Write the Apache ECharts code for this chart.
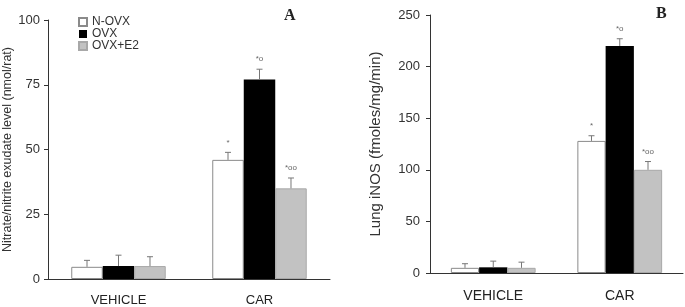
<!DOCTYPE html>
<html><head><meta charset="utf-8">
<script src="https://cdn.jsdelivr.net/npm/echarts@6/dist/echarts.min.js"></script>
<style>html,body{margin:0;padding:0;background:#fff}#c{width:685px;height:307px}</style>
</head><body><div id="c"></div>
<script>
var categories = ['VEHICLE', 'CAR'];
var seriesNames = ['N-OVX', 'OVX', 'OVX+E2'];
// Panel A: nitrate/nitrite exudate (nmol/rat)
var nOvxA = [4.7, 46];
var ovxA = [5, 77];
var ovxE2A = [5, 35];
var nOvxAErr = [2.5, 2.9];
var ovxAErr = [4.2, 4];
var ovxE2AErr = [3.6, 4];
// Panel B: lung iNOS (fmoles/mg/min)
var nOvxB = [5, 128];
var ovxB = [5.5, 220];
var ovxE2B = [5, 100];
var nOvxBErr = [4, 5];
var ovxBErr = [6, 7];
var ovxE2BErr = [5.5, 8];
// significance marks
var nOvxMarks = ['', '*'];
var ovxMarks = ['', '*o'];
var ovxE2Marks = ['', '*oo'];
var yTicksA = [0, 25, 50, 75, 100];
var yTicksB = [0, 50, 100, 150, 200, 250];

var GAP = 0.33;
var styles = [
  {color: '#ffffff', borderColor: '#8a8a8a', borderWidth: 1},
  {color: '#000000', borderColor: '#000000', borderWidth: 0},
  {color: '#c2c2c2', borderColor: '#a8a8a8', borderWidth: 1}
];

function barSeries(name, data, idx, axisIdx) {
  return {
    type: 'bar', name: name, xAxisIndex: axisIdx, yAxisIndex: axisIdx,
    data: data, barGap: '0%', barCategoryGap: (GAP * 100) + '%',
    itemStyle: styles[idx], silent: true, animation: false, z: 2
  };
}
function errSeries(vals, errs, marks, idx, axisIdx) {
  var d = vals.map(function (v, i) { return [i, v, errs[i], marks[i]]; });
  return {
    type: 'custom', xAxisIndex: axisIdx, yAxisIndex: axisIdx, data: d, z: 5,
    animation: false, silent: true,
    renderItem: function (params, api) {
      var cat = api.value(0), v = api.value(1), e = api.value(2);
      var mark = d[params.dataIndex][3];
      var base = api.coord([cat, v]);
      var top = api.coord([cat, v + e]);
      var band = api.size([1, 0])[0];
      var bw = band * (1 - GAP) / 3;
      var x = base[0] + (idx - 1) * bw;
      var col = '#777';
      var children = [
        {type: 'line', shape: {x1: x, y1: base[1], x2: x, y2: top[1]}, style: {stroke: col, lineWidth: 1}},
        {type: 'line', shape: {x1: x - 3, y1: top[1], x2: x + 3, y2: top[1]}, style: {stroke: col, lineWidth: 1}}
      ];
      if (mark) {
        children.push({type: 'text', style: {text: mark, x: x, y: top[1] - 6, align: 'center', verticalAlign: 'bottom',
          font: '8px Arial', fill: '#666'}});
      }
      return {type: 'group', children: children};
    }
  };
}

var axisLine = {show: true, lineStyle: {color: '#333', width: 1}};
var option = {
  backgroundColor: '#fff',
  animation: false,
  textStyle: {fontFamily: 'Arial, Liberation Sans, sans-serif'},
  title: [
    {text: 'A', left: 279, top: 3, textStyle: {fontFamily: 'Liberation Serif, serif', fontWeight: 'bold', fontSize: 16, color: '#222'}},
    {text: 'B', left: 651, top: 1, textStyle: {fontFamily: 'Liberation Serif, serif', fontWeight: 'bold', fontSize: 16, color: '#222'}}
  ],
  legend: {
    data: seriesNames, orient: 'vertical', left: 78, top: 16, padding: 0, itemWidth: 8, itemHeight: 8, itemGap: 0,
    icon: 'rect', textStyle: {fontSize: 12, lineHeight: 12, color: '#333'}, selectedMode: false
  },
  grid: [
    {left: 47, right: 355, top: 20, bottom: 27.5},
    {left: 430, right: 2, top: 15, bottom: 34}
  ],
  xAxis: [
    {type: 'category', gridIndex: 0, data: categories, axisLine: axisLine, axisTick: {show: false},
      axisLabel: {fontSize: 13, color: '#222', margin: 15}},
    {type: 'category', gridIndex: 1, data: categories, axisLine: axisLine, axisTick: {show: false},
      axisLabel: {fontSize: 14, color: '#222', margin: 16}}
  ],
  yAxis: [
    {type: 'value', gridIndex: 0, min: yTicksA[0], max: yTicksA[yTicksA.length - 1], interval: 25,
      name: 'Nitrate/nitrite exudate level (nmol/rat)', nameLocation: 'middle', nameGap: 34, nameRotate: 90,
      nameTextStyle: {fontSize: 12.5, color: '#333'},
      axisLine: axisLine, axisTick: {show: true, length: 4, lineStyle: {color: '#333'}},
      axisLabel: {fontSize: 13, color: '#333', margin: 8}, splitLine: {show: false}},
    {type: 'value', gridIndex: 1, min: yTicksB[0], max: yTicksB[yTicksB.length - 1], interval: 50,
      name: 'Lung iNOS (fmoles/mg/min)', nameLocation: 'middle', nameGap: 47, nameRotate: 90,
      nameTextStyle: {fontSize: 15, color: '#333'},
      axisLine: axisLine, axisTick: {show: true, length: 4, lineStyle: {color: '#333'}},
      axisLabel: {fontSize: 13, color: '#333', margin: 10}, splitLine: {show: false}}
  ],
  series: [
    barSeries(seriesNames[0], nOvxA, 0, 0),
    barSeries(seriesNames[1], ovxA, 1, 0),
    barSeries(seriesNames[2], ovxE2A, 2, 0),
    barSeries(seriesNames[0], nOvxB, 0, 1),
    barSeries(seriesNames[1], ovxB, 1, 1),
    barSeries(seriesNames[2], ovxE2B, 2, 1),
    errSeries(nOvxA, nOvxAErr, nOvxMarks, 0, 0),
    errSeries(ovxA, ovxAErr, ovxMarks, 1, 0),
    errSeries(ovxE2A, ovxE2AErr, ovxE2Marks, 2, 0),
    errSeries(nOvxB, nOvxBErr, nOvxMarks, 0, 1),
    errSeries(ovxB, ovxBErr, ovxMarks, 1, 1),
    errSeries(ovxE2B, ovxE2BErr, ovxE2Marks, 2, 1)
  ]
};
var chart = echarts.init(document.getElementById('c'), null, {renderer: 'canvas'});
chart.setOption(option);
</script></body></html>
